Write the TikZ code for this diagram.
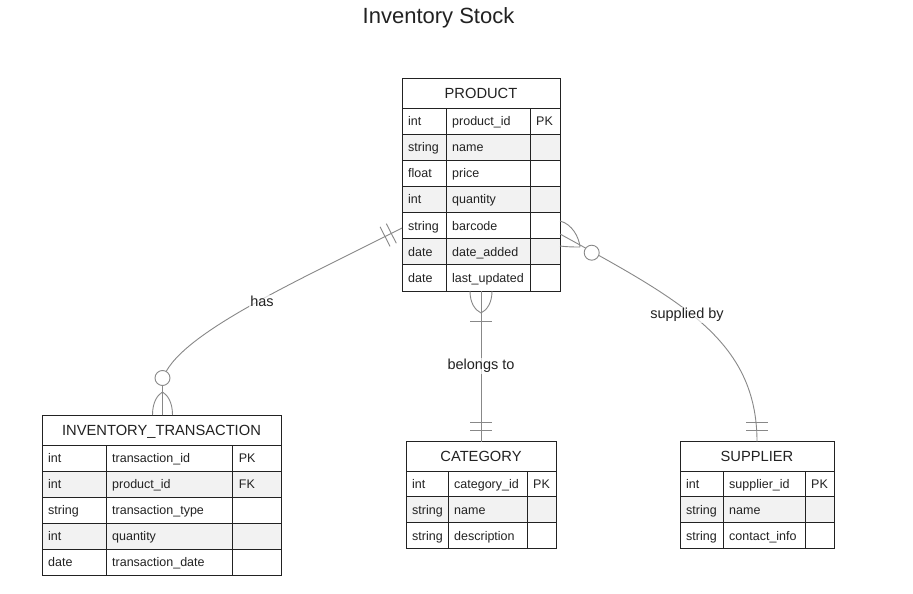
\documentclass[tikz,border=0pt]{standalone}
\usepackage{fontspec}
\setmainfont{Liberation Sans}
\usetikzlibrary{calc}
\definecolor{rowgray}{HTML}{F2F2F2}
\definecolor{inkc}{HTML}{222222}
\definecolor{edgec}{HTML}{888888}
\newcommand{\DrawEntity}[9]{%
  \pgfmathsetmacro\ERw{#6-#3}%
  \pgfmathsetmacro\ERh{\ERbot-#7}%
  \fill[white] (#3,#7) rectangle (#6,\ERbot);
  \foreach \t/\n/\k [count=\i] in \ERrows {%
    \pgfmathsetmacro\ya{#8+(\i-1)*#9}%
    \pgfmathsetmacro\yb{#8+\i*#9}%
    \ifodd\i\relax \else \fill[rowgray] (#3,\ya) rectangle (#6,\yb);\fi
  }%
  \foreach \t/\n/\k [count=\i] in \ERrows {%
    \pgfmathsetmacro\ya{#8+(\i-1)*#9}%
    \pgfmathsetmacro\yb{#8+\i*#9}%
    \pgfmathsetmacro\ym{#8+(\i-0.5)*#9+4.5}%
    \draw[ebox] (#3,\ya) -- (#6,\ya) (#4,\ya) -- (#4,\yb) (#5,\ya) -- (#5,\yb);
    \node[cell] (#1-t\i) at (#3+6,\ym) {\t};
    \node[cell] (#1-n\i) at (#4+6,\ym) {\n};
    \node[cell] (#1-k\i) at (#5+6,\ym) {\k};
  }%
  \node[ehead] (#1-title) at ({(#3+#6)/2},{(#7+#8)/2+5.3}) {#2};
  \node[ebox, inner sep=0pt, outer sep=0pt, minimum width=\ERw pt, minimum height=\ERh pt, anchor=north west] (#1) at (#3,#7) {};
}
\begin{document}
\begin{tikzpicture}[x=1pt,y=-1pt,
  ebox/.style={draw=inkc, line width=1pt},
  cell/.style={inner sep=0pt, anchor=base west, font=\fontsize{12.5}{14}\selectfont, text=inkc},
  ehead/.style={inner sep=0pt, anchor=base, font=\fontsize{14.7}{17}\selectfont, text=inkc},
  rel/.style={draw=edgec, line width=0.9pt},
  zcircle/.style={circle, draw=edgec, line width=0.9pt, fill=white, minimum size=15pt, inner sep=0pt},
  rlabel/.style={fill=white, fill opacity=0.7, text opacity=1, inner sep=1pt, text height=10.5pt, text depth=3pt, font=\fontsize{14.5}{17}\selectfont, text=inkc},
  titlestyle/.style={inner sep=0pt, anchor=base, font=\fontsize{22}{26}\selectfont, text=inkc}
]
\useasboundingbox[fill=white] (0,0) rectangle (913,594);

\node[titlestyle] (title) at (438.5,24) {Inventory Stock};

% entities
\def\ERrows{int/product\_id/PK, string/name/{}, float/price/{}, int/quantity/{}, string/barcode/{}, date/date\_added/{}, date/last\_updated/{}}
\def\ERbot{291}
\DrawEntity{product}{PRODUCT}{402}{446}{530}{560}{79}{108}{26.14}

\def\ERrows{int/transaction\_id/PK, int/product\_id/FK, string/transaction\_type/{}, int/quantity/{}, date/transaction\_date/{}}
\def\ERbot{575}
\DrawEntity{inv}{INVENTORY\_TRANSACTION}{42}{106}{232.7}{281}{415}{445}{26}

\def\ERrows{int/category\_id/PK, string/name/{}, string/description/{}}
\def\ERbot{548.5}
\DrawEntity{category}{CATEGORY}{406}{448}{527}{556}{441.7}{471}{25.83}

\def\ERrows{int/supplier\_id/PK, string/name/{}, string/contact\_info/{}}
\def\ERbot{548.5}
\DrawEntity{supplier}{SUPPLIER}{680}{723}{805}{834}{441.7}{471}{25.83}

% connection points
\coordinate (pA) at ([yshift=-43pt]product.west);
\coordinate (pB) at (product.south);
\coordinate (pC) at ([yshift=-49pt]product.east);
\coordinate (iA) at ([xshift=1pt]inv.north);
\coordinate (cA) at (category.north);
\coordinate (sA) at (supplier.north);
\coordinate (hasC1) at (300,280);
\coordinate (hasC2) at (175,335);
\coordinate (hasE) at ([yshift=35pt]iA);
\coordinate (supC1) at (680,300);
\coordinate (supC2) at (757,340);

% PRODUCT -- INVENTORY_TRANSACTION : has
\draw[rel] (pA) .. controls (hasC1) and (hasC2) .. (hasE) -- (iA);
\path ($(pA)!12pt!(hasC1)$) coordinate (hb1) ($(pA)!19pt!(hasC1)$) coordinate (hb2);
\draw[rel] ($(hb1)!11pt!90:(pA)$) -- ($(hb1)!11pt!-90:(pA)$);
\draw[rel] ($(hb2)!11pt!90:(pA)$) -- ($(hb2)!11pt!-90:(pA)$);
\node[zcircle] (hasO) at ([yshift=37pt]iA) {};
\coordinate (hasT) at ([yshift=23pt]iA);
\draw[rel] ([xshift=-10pt]iA) .. controls +(0,-13) and +(-5,3) .. (hasT);
\draw[rel] ([xshift=10pt]iA) .. controls +(0,-13) and +(5,3) .. (hasT);
\node[rlabel] (hasL) at (262,303) {has};

% PRODUCT -- CATEGORY : belongs to
\draw[rel] (pB) -- (cA);
\coordinate (bT) at ([yshift=-22pt]pB);
\draw[rel] ([xshift=-11pt]pB) .. controls +(0,12) and +(-6,-3) .. (bT);
\draw[rel] ([xshift=11pt]pB) .. controls +(0,12) and +(6,-3) .. (bT);
\draw[rel] ([xshift=-11pt,yshift=-30.7pt]pB) -- ([xshift=11pt,yshift=-30.7pt]pB);
\draw[rel] ([xshift=-11pt,yshift=19pt]cA) -- ([xshift=11pt,yshift=19pt]cA);
\draw[rel] ([xshift=-11pt,yshift=11.7pt]cA) -- ([xshift=11pt,yshift=11.7pt]cA);
\node[rlabel] (belL) at (481,366) {belongs to};

% PRODUCT -- SUPPLIER : supplied by
\draw[rel] (pC) .. controls (supC1) and (supC2) .. (sA);
\coordinate (sT) at ([xshift=20pt,yshift=-13pt]pC);
\draw[rel] ([yshift=13pt]pC) .. controls +(12,3) and +(-1,-10) .. (sT);
\draw[rel] ([yshift=-12pt]pC) .. controls +(8,1) and +(-6,0) .. (sT);
\node[zcircle] (supO) at ([xshift=31.7pt,yshift=-18.7pt]pC) {};
\draw[rel] ([xshift=-11pt,yshift=19pt]sA) -- ([xshift=11pt,yshift=19pt]sA);
\draw[rel] ([xshift=-11pt,yshift=11.7pt]sA) -- ([xshift=11pt,yshift=11.7pt]sA);
\node[rlabel] (supL) at (687,315) {supplied by};
\end{tikzpicture}
\end{document}
